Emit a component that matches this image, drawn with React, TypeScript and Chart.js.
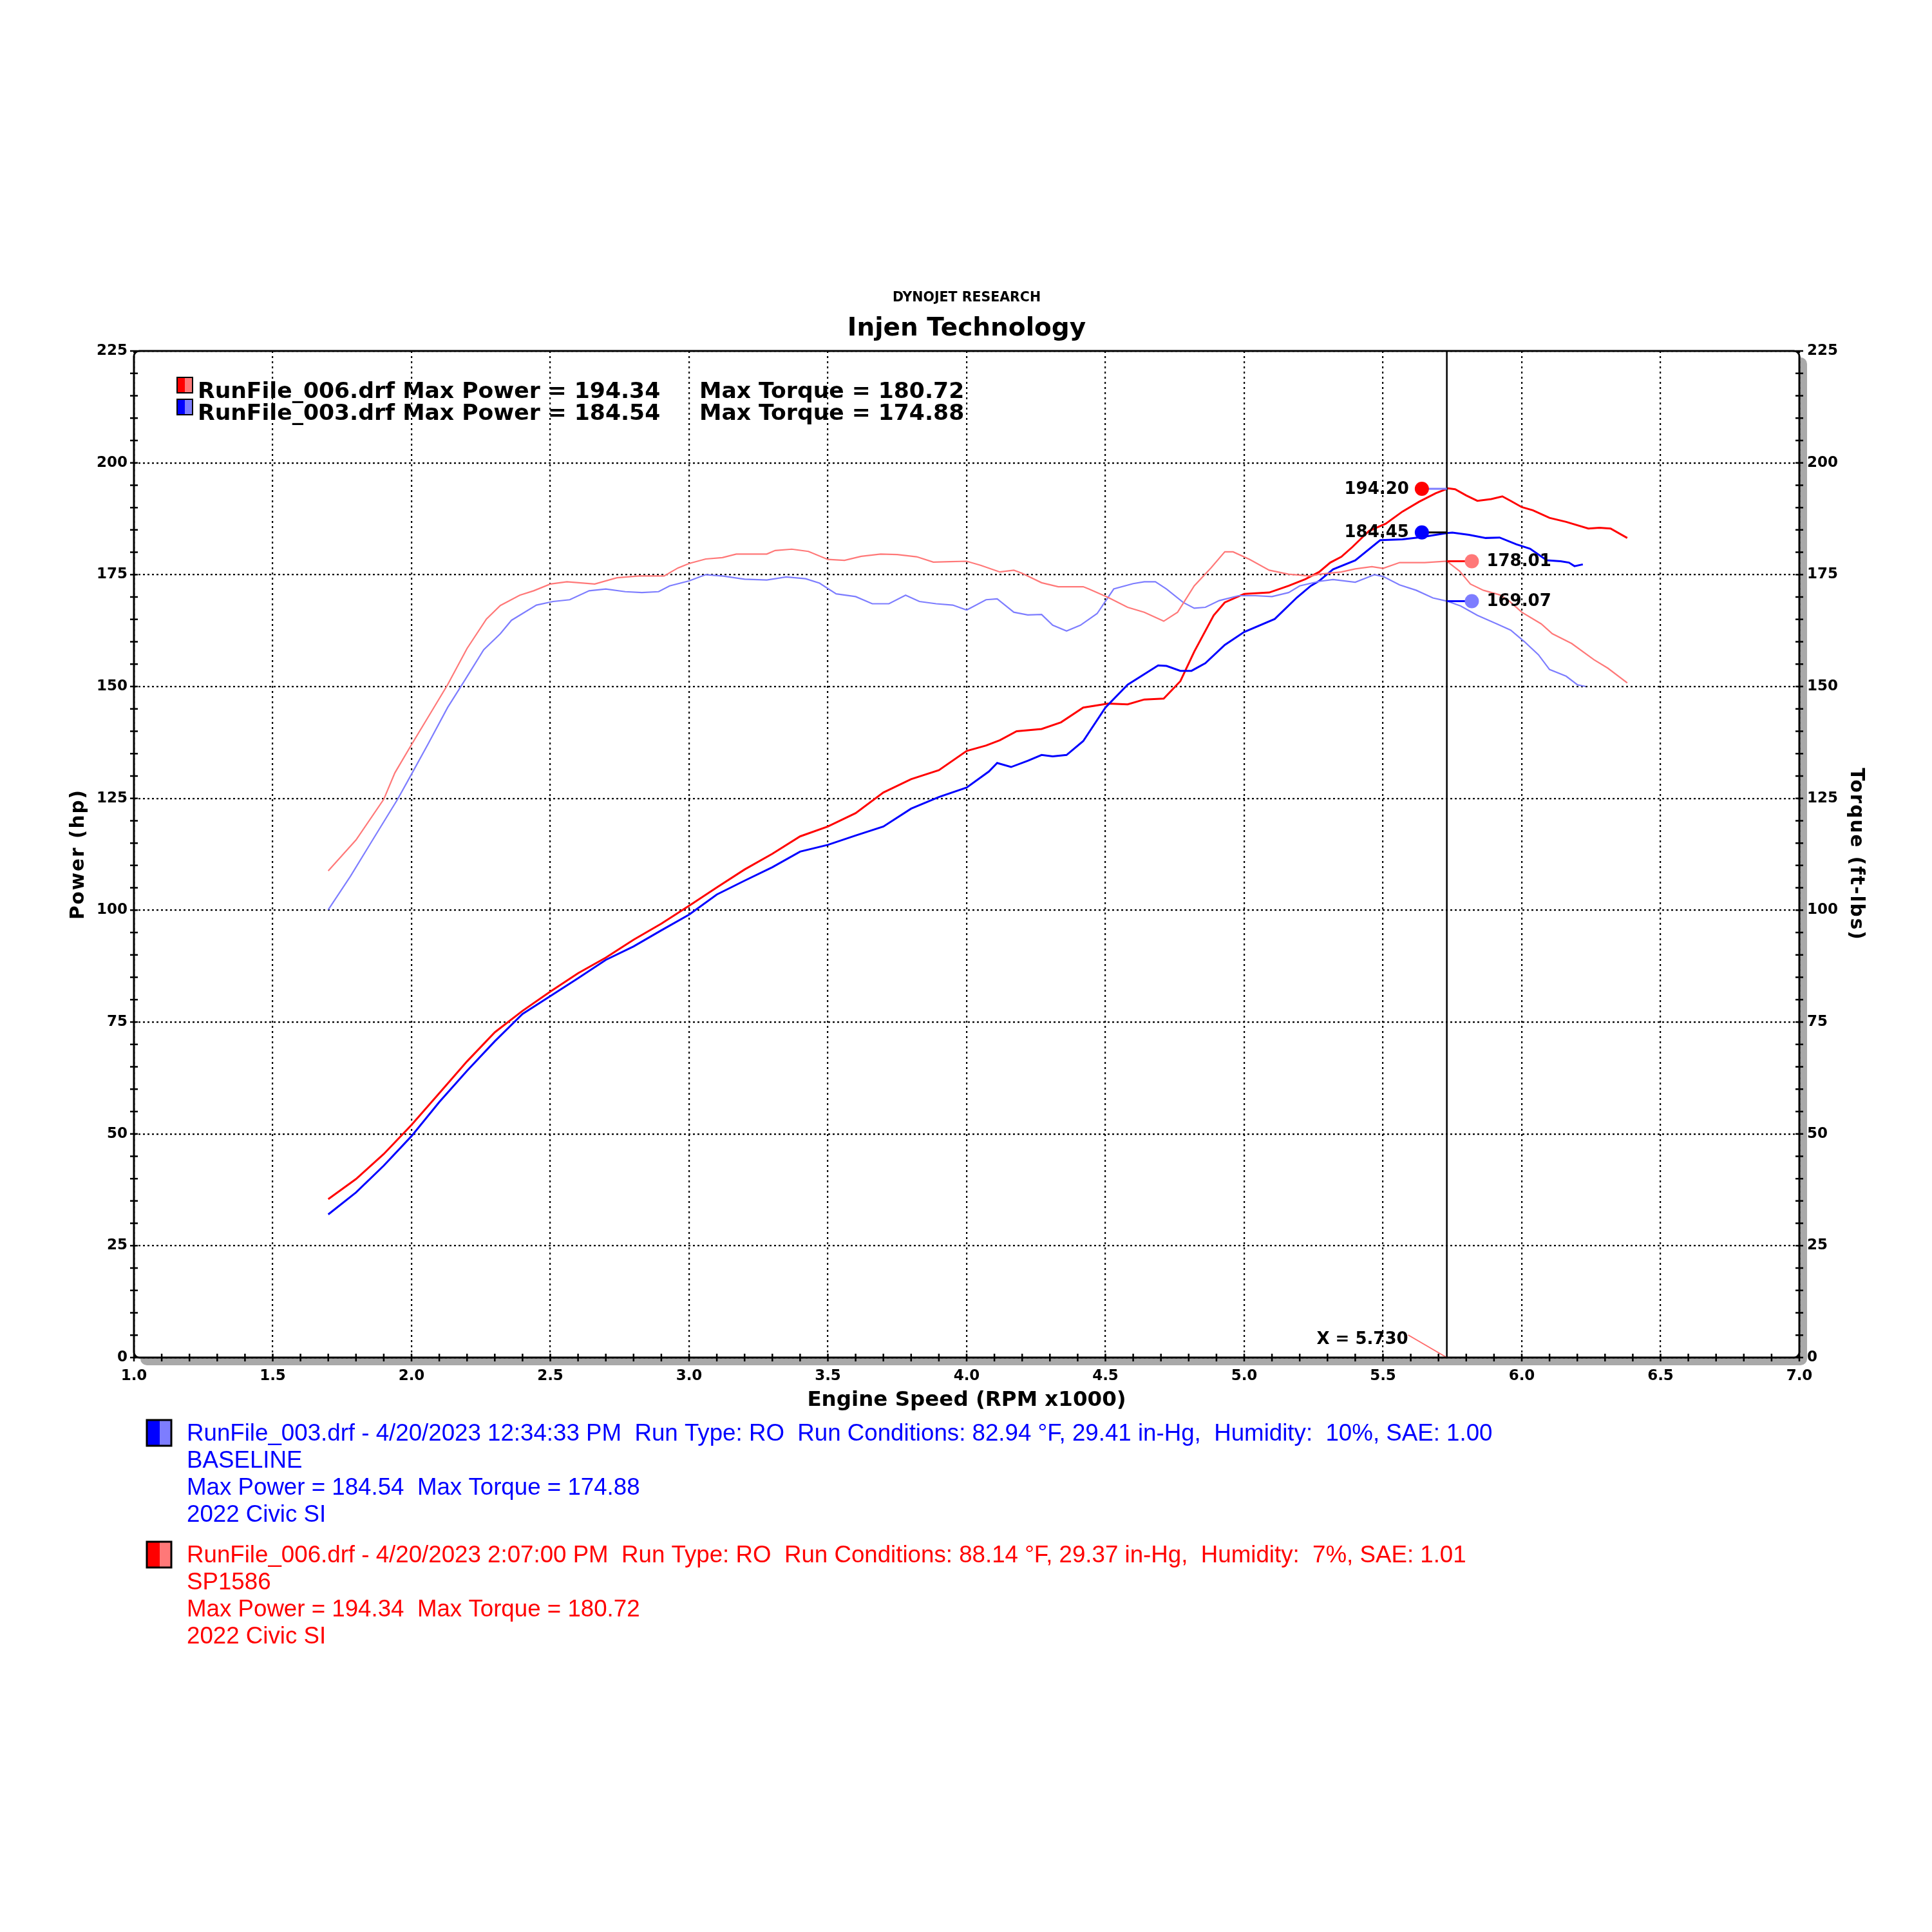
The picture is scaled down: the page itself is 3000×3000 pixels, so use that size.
import React, { useEffect, useRef } from 'react';
import { Chart, registerables } from 'chart.js';

Chart.register(...registerables);

// ---------- data ----------
const rpmRedPower = [1.70, 1.80, 1.90, 2.00, 2.10, 2.20, 2.30, 2.40, 2.50, 2.60, 2.70, 2.80, 2.90, 3.00, 3.10, 3.20, 3.30, 3.40, 3.50, 3.60, 3.70, 3.80, 3.90, 4.00, 4.07, 4.12, 4.18, 4.27, 4.34, 4.42, 4.51, 4.58, 4.64, 4.71, 4.77, 4.82, 4.89, 4.93, 5.00, 5.09, 5.16, 5.22, 5.27, 5.31, 5.35, 5.39, 5.45, 5.51, 5.57, 5.63, 5.69, 5.735, 5.76, 5.80, 5.84, 5.89, 5.93, 5.96, 6.00, 6.04, 6.10, 6.16, 6.24, 6.28, 6.32, 6.38];
const redPower = [35.4, 39.9, 45.5, 52.0, 59.1, 66.2, 72.7, 77.5, 81.8, 85.9, 89.4, 93.4, 97.0, 101.0, 105.1, 109.1, 112.6, 116.5, 118.7, 121.7, 126.3, 129.3, 131.3, 135.6, 136.8, 138.0, 140.0, 140.5, 142.0, 145.3, 146.2, 146.0, 147.1, 147.3, 151.2, 157.8, 165.9, 168.8, 170.7, 171.0, 172.5, 174.0, 175.6, 177.7, 179.0, 181.2, 184.8, 186.4, 189.1, 191.3, 193.2, 194.3, 194.1, 192.7, 191.5, 191.9, 192.5, 191.5, 190.1, 189.4, 187.7, 186.8, 185.3, 185.5, 185.3, 183.2];

const rpmBluePower = [1.70, 1.80, 1.90, 2.00, 2.10, 2.20, 2.30, 2.40, 2.50, 2.60, 2.70, 2.80, 2.90, 3.00, 3.10, 3.20, 3.30, 3.40, 3.50, 3.60, 3.70, 3.80, 3.90, 4.00, 4.08, 4.11, 4.16, 4.22, 4.27, 4.31, 4.36, 4.42, 4.50, 4.58, 4.69, 4.72, 4.77, 4.81, 4.86, 4.93, 5.00, 5.11, 5.19, 5.24, 5.27, 5.32, 5.40, 5.49, 5.57, 5.64, 5.73, 5.75, 5.81, 5.87, 5.92, 5.98, 6.03, 6.09, 6.14, 6.17, 6.19, 6.22];
const bluePower = [32.0, 36.9, 42.9, 49.5, 57.1, 64.1, 70.7, 76.8, 80.8, 84.8, 88.9, 91.9, 95.5, 99.0, 103.5, 106.6, 109.6, 113.1, 114.6, 116.7, 118.7, 122.7, 125.3, 127.4, 131.0, 132.9, 132.0, 133.4, 134.7, 134.4, 134.7, 137.8, 145.3, 150.4, 154.7, 154.6, 153.5, 153.5, 155.2, 159.3, 162.2, 165.1, 169.9, 172.5, 173.6, 176.2, 178.2, 182.7, 182.9, 183.4, 184.3, 184.4, 183.9, 183.2, 183.3, 181.8, 180.8, 178.2, 178.0, 177.7, 176.9, 177.3];

const rpmRedTorque = [1.70, 1.80, 1.90, 1.94, 2.00, 2.07, 2.13, 2.20, 2.27, 2.32, 2.39, 2.44, 2.50, 2.56, 2.66, 2.74, 2.82, 2.91, 2.96, 3.00, 3.06, 3.12, 3.17, 3.28, 3.31, 3.37, 3.43, 3.50, 3.56, 3.62, 3.69, 3.75, 3.82, 3.88, 3.94, 4.00, 4.05, 4.12, 4.17, 4.20, 4.27, 4.33, 4.42, 4.44, 4.51, 4.58, 4.64, 4.71, 4.76, 4.82, 4.88, 4.93, 4.96, 5.02, 5.09, 5.16, 5.24, 5.27, 5.35, 5.40, 5.46, 5.50, 5.56, 5.65, 5.73, 5.776, 5.815, 5.862, 5.92, 5.955, 6.00, 6.07, 6.11, 6.18, 6.26, 6.31, 6.38];
const redTorque = [108.8, 115.7, 124.8, 130.7, 137.0, 144.2, 150.4, 158.5, 165.1, 168.1, 170.4, 171.4, 172.9, 173.4, 172.9, 174.3, 174.7, 174.7, 176.5, 177.5, 178.5, 178.8, 179.6, 179.6, 180.4, 180.7, 180.2, 178.4, 178.2, 179.1, 179.6, 179.5, 179.0, 177.8, 177.9, 178.0, 177.1, 175.6, 176.0, 175.3, 173.2, 172.3, 172.3, 171.8, 169.9, 167.7, 166.6, 164.6, 166.6, 172.5, 176.5, 180.1, 180.1, 178.4, 176.0, 175.1, 174.7, 175.1, 175.6, 176.3, 176.8, 176.4, 177.7, 177.7, 178.0, 175.8, 172.9, 171.5, 170.5, 169.1, 166.6, 164.0, 161.8, 159.6, 156.0, 154.1, 150.8];

const rpmBlueTorque = [1.70, 1.78, 1.85, 1.95, 2.00, 2.06, 2.13, 2.19, 2.26, 2.32, 2.36, 2.45, 2.51, 2.57, 2.64, 2.70, 2.77, 2.83, 2.89, 2.93, 3.00, 3.06, 3.12, 3.20, 3.28, 3.35, 3.42, 3.47, 3.53, 3.60, 3.66, 3.72, 3.78, 3.83, 3.89, 3.95, 4.00, 4.07, 4.11, 4.17, 4.22, 4.27, 4.31, 4.36, 4.41, 4.47, 4.53, 4.60, 4.64, 4.68, 4.72, 4.78, 4.82, 4.86, 4.91, 4.98, 5.04, 5.10, 5.16, 5.20, 5.27, 5.32, 5.40, 5.47, 5.50, 5.56, 5.62, 5.68, 5.73, 5.78, 5.84, 5.91, 5.96, 6.01, 6.06, 6.10, 6.16, 6.20, 6.23];
const blueTorque = [100.1, 107.6, 114.7, 124.8, 130.4, 137.2, 145.3, 151.2, 158.2, 161.8, 164.8, 168.2, 169.0, 169.4, 171.4, 171.8, 171.2, 171.0, 171.2, 172.5, 173.6, 175.0, 174.7, 174.0, 173.8, 174.5, 174.1, 173.1, 170.7, 170.1, 168.5, 168.5, 170.4, 169.0, 168.5, 168.2, 167.1, 169.4, 169.6, 166.6, 166.0, 166.1, 163.7, 162.4, 163.7, 166.3, 171.8, 173.0, 173.4, 173.4, 171.8, 168.8, 167.5, 167.7, 169.2, 170.3, 170.3, 170.1, 171.0, 172.5, 173.5, 173.9, 173.3, 175.0, 174.6, 172.7, 171.5, 169.8, 169.1, 168.0, 165.9, 164.0, 162.6, 160.0, 157.1, 153.8, 152.3, 150.4, 150.0];

const yTickStep = 25;
const xTickStep = 0.5;
const runNames = ['RunFile_006.drf', 'RunFile_003.drf'];
const maxPowerValues = [194.34, 184.54];
const maxTorqueValues = [180.72, 174.88];
const cursorRpm = 5.73;
const markerPowerRpm = 5.64;
const markerTorqueRpm = 5.82;
const markerValues = [194.2, 184.45, 178.01, 169.07];

const infoBlue = [
  'RunFile_003.drf - 4/20/2023 12:34:33 PM  Run Type: RO  Run Conditions: 82.94 \u00B0F, 29.41 in-Hg,  Humidity:  10%, SAE: 1.00',
  'BASELINE',
  'Max Power = 184.54  Max Torque = 174.88',
  '2022 Civic SI',
];
const infoRed = [
  'RunFile_006.drf - 4/20/2023 2:07:00 PM  Run Type: RO  Run Conditions: 88.14 \u00B0F, 29.37 in-Hg,  Humidity:  7%, SAE: 1.01',
  'SP1586',
  'Max Power = 194.34  Max Torque = 180.72',
  '2022 Civic SI',
];

const RED = '#ff0000';
const BLUE = '#0000ff';
const LRED = '#ff7878';
const LBLUE = '#7d7dff';
const BOLD = 'DejaVu Sans';

const pts = (xs: number[], ys: number[]) => xs.map((x, i) => ({ x, y: ys[i] }));

const decorPlugin = {
  id: 'dynoDecor',
  beforeDraw(chart: any) {
    const { ctx, chartArea: a } = chart;
    ctx.save();
    ctx.fillStyle = '#ffffff';
    ctx.fillRect(0, 0, chart.width, chart.height);
    ctx.fillStyle = '#a9a9a9';
    ctx.beginPath();
    ctx.roundRect(a.left + 10, a.top + 10, a.right - a.left + 2, a.bottom - a.top + 2, 10);
    ctx.fill();
    ctx.fillStyle = '#ffffff';
    ctx.beginPath();
    ctx.roundRect(a.left, a.top, a.right - a.left, a.bottom - a.top, 8);
    ctx.fill();
    ctx.restore();
  },
  afterDatasetsDraw(chart: any) {
    const { ctx, chartArea: a, scales } = chart;
    const sx = scales.x;
    const sy = scales.y;
    ctx.save();
    // cursor line
    const cx = sx.getPixelForValue(cursorRpm);
    ctx.lineWidth = 2.5;
    ctx.strokeStyle = '#000';
    ctx.beginPath();
    ctx.moveTo(cx, a.top);
    ctx.lineTo(cx, a.bottom);
    ctx.stroke();

    // markers
    const px = sx.getPixelForValue(markerPowerRpm);
    const tx = sx.getPixelForValue(markerTorqueRpm);
    const markers = [
      { x: px, v: markerValues[0], fill: RED, conn: LBLUE, side: 'left' },
      { x: px, v: markerValues[1], fill: BLUE, conn: '#000', side: 'left' },
      { x: tx, v: markerValues[2], fill: LRED, conn: RED, side: 'right' },
      { x: tx, v: markerValues[3], fill: LBLUE, conn: BLUE, side: 'right' },
    ];
    ctx.font = `bold 26px "${BOLD}"`;
    ctx.textBaseline = 'middle';
    markers.forEach((m) => {
      const my = sy.getPixelForValue(m.v);
      ctx.strokeStyle = m.conn;
      ctx.lineWidth = 3;
      ctx.beginPath();
      ctx.moveTo(m.x, my);
      ctx.lineTo(cx, my);
      ctx.stroke();
      ctx.fillStyle = m.fill;
      ctx.beginPath();
      ctx.arc(m.x, my, 11, 0, Math.PI * 2);
      ctx.fill();
      ctx.fillStyle = '#000';
      const label = m.v.toFixed(2);
      if (m.side === 'left') {
        ctx.textAlign = 'right';
        ctx.fillText(label, m.x - 20, my + 1);
      } else {
        ctx.textAlign = 'left';
        ctx.fillText(label, m.x + 23, my + 1);
      }
    });

    // X = label
    ctx.strokeStyle = '#ff6a6a';
    ctx.lineWidth = 2;
    ctx.beginPath();
    ctx.moveTo(cx - 60, a.bottom - 35);
    ctx.lineTo(cx, a.bottom);
    ctx.stroke();
    ctx.fillStyle = '#000';
    ctx.textAlign = 'right';
    ctx.textBaseline = 'alphabetic';
    ctx.fillText('X = ' + cursorRpm.toFixed(3), cx - 60, a.bottom - 21);
    ctx.restore();
  },
  afterDraw(chart: any) {
    const { ctx, chartArea: a, scales } = chart;
    const sx = scales.x;
    const sy = scales.y;
    ctx.save();
    // frame
    ctx.strokeStyle = '#000';
    ctx.lineWidth = 3;
    ctx.beginPath();
    ctx.roundRect(a.left, a.top, a.right - a.left, a.bottom - a.top, 8);
    ctx.stroke();
    // minor ticks
    ctx.lineWidth = 2.5;
    ctx.beginPath();
    for (let v = 0; v <= 225; v += 5) {
      const y = sy.getPixelForValue(v);
      ctx.moveTo(a.left - 6, y);
      ctx.lineTo(a.left + 6, y);
      ctx.moveTo(a.right - 6, y);
      ctx.lineTo(a.right + 6, y);
    }
    for (let i = 10; i <= 70; i++) {
      const x = sx.getPixelForValue(i / 10);
      ctx.moveTo(x, a.bottom - 6);
      ctx.lineTo(x, a.bottom + 6);
    }
    ctx.stroke();

    const midX = (a.left + a.right) / 2;
    ctx.fillStyle = '#000';
    ctx.textAlign = 'center';
    ctx.textBaseline = 'alphabetic';
    ctx.font = `bold 20.5px "${BOLD}"`;
    ctx.fillText('DYNOJET RESEARCH', midX, 468);
    ctx.font = `bold 39px "${BOLD}"`;
    ctx.fillText('Injen Technology', midX, 521);

    // in-plot legend
    const swatches = [
      [RED, LRED],
      [BLUE, LBLUE],
    ];
    ctx.font = `bold 34.6px "${BOLD}"`;
    ctx.textAlign = 'left';
    runNames.forEach((name, i) => {
      const base = 618 + i * 34;
      const top = base - 32;
      ctx.fillStyle = swatches[i][0];
      ctx.fillRect(275, top, 12, 24);
      ctx.fillStyle = swatches[i][1];
      ctx.fillRect(287, top, 12, 24);
      ctx.strokeStyle = '#000';
      ctx.lineWidth = 2;
      ctx.strokeRect(275, top, 24, 24);
      ctx.fillStyle = '#000';
      ctx.fillText(`${name} Max Power = ${maxPowerValues[i].toFixed(2)}`, 307, base);
      ctx.fillText(`Max Torque = ${maxTorqueValues[i].toFixed(2)}`, 1086, base);
    });

    // axis titles
    ctx.textAlign = 'center';
    ctx.font = `bold 32.5px "${BOLD}"`;
    ctx.fillText('Engine Speed (RPM x1000)', midX, 2183);
    (ctx as any).letterSpacing = '2px';
    ctx.font = `bold 29.5px "${BOLD}"`;
    ctx.save();
    ctx.translate(130, (a.top + a.bottom) / 2);
    ctx.rotate(-Math.PI / 2);
    ctx.fillText('Power (hp)', 0, 0);
    ctx.restore();
    ctx.save();
    ctx.translate(2874, (a.top + a.bottom) / 2);
    ctx.rotate(Math.PI / 2);
    ctx.fillText('Torque (ft-lbs)', 0, 0);
    ctx.restore();
    (ctx as any).letterSpacing = '0px';

    // run information
    const blocks = [
      { lines: infoBlue, c1: BLUE, c2: LBLUE, base: 2237 },
      { lines: infoRed, c1: RED, c2: LRED, base: 2426 },
    ];
    ctx.textAlign = 'left';
    ctx.font = '36.7px "Liberation Sans"';
    blocks.forEach((b) => {
      const top = b.base - 32;
      ctx.fillStyle = b.c1;
      ctx.fillRect(228, top, 20, 40);
      ctx.fillStyle = b.c2;
      ctx.fillRect(248, top, 18, 40);
      ctx.strokeStyle = '#000';
      ctx.lineWidth = 3;
      ctx.strokeRect(228, top, 38, 40);
      ctx.fillStyle = b.c1;
      b.lines.forEach((t, i) => ctx.fillText(t, 290, b.base + i * 42));
    });
    ctx.restore();
  },
};

export default function App() {
  const ref = useRef<HTMLCanvasElement | null>(null);
  useEffect(() => {
    document.body.style.margin = '0';
    const canvas = ref.current;
    if (!canvas) return;
    const tickFont = { family: BOLD, weight: 'bold' as const, size: 23 };
    const chart = new Chart(canvas, {
      type: 'line',
      data: {
        datasets: [
          { label: 'RunFile_006 Torque', data: pts(rpmRedTorque, redTorque), yAxisID: 'y2', borderColor: LRED, borderWidth: 2.2, pointRadius: 0, tension: 0 },
          { label: 'RunFile_003 Torque', data: pts(rpmBlueTorque, blueTorque), yAxisID: 'y2', borderColor: LBLUE, borderWidth: 2.2, pointRadius: 0, tension: 0 },
          { label: 'RunFile_003 Power', data: pts(rpmBluePower, bluePower), yAxisID: 'y', borderColor: BLUE, borderWidth: 3, pointRadius: 0, tension: 0 },
          { label: 'RunFile_006 Power', data: pts(rpmRedPower, redPower), yAxisID: 'y', borderColor: RED, borderWidth: 3, pointRadius: 0, tension: 0 },
        ],
      },
      options: {
        animation: false,
        responsive: false,
        devicePixelRatio: 1,
        layout: { padding: { top: 545, left: 0, right: 0, bottom: 0 } },
        plugins: { legend: { display: false }, tooltip: { enabled: false }, title: { display: false } },
        scales: {
          x: {
            type: 'linear',
            position: 'bottom',
            min: 1,
            max: 7,
            afterFit: (s: any) => { s.height = 892; },
            ticks: { stepSize: xTickStep, callback: (v: any) => Number(v).toFixed(1), font: tickFont, color: '#000', padding: 15, maxRotation: 0, autoSkip: false },
            grid: { color: '#000', lineWidth: 2.2, drawTicks: false },
            border: { display: false, dash: [3, 5] },
          },
          y: {
            type: 'linear',
            position: 'left',
            min: 0,
            max: 225,
            afterFit: (s: any) => { s.width = 208; },
            ticks: { stepSize: yTickStep, font: tickFont, color: '#000', padding: 10 },
            grid: { color: '#000', lineWidth: 2.2, drawTicks: false },
            border: { display: false, dash: [3, 4] },
          },
          y2: {
            type: 'linear',
            position: 'right',
            min: 0,
            max: 225,
            afterFit: (s: any) => { s.width = 206; },
            ticks: { stepSize: yTickStep, font: tickFont, color: '#000', padding: 12 },
            grid: { display: false, drawTicks: false },
            border: { display: false },
          },
        },
      },
      plugins: [decorPlugin],
    } as any);
    return () => chart.destroy();
  }, []);
  return (
    <div style={{ position: 'absolute', left: 0, top: 0, width: 3000, height: 3000, background: '#fff' }}>
      <canvas ref={ref} width={3000} height={3000} style={{ width: 3000, height: 3000, display: 'block' }} />
    </div>
  );
}
